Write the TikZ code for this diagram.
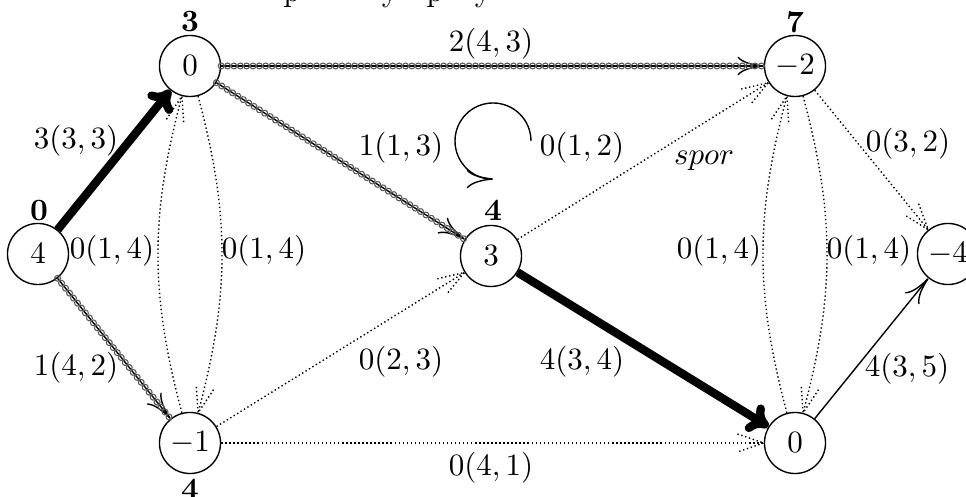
\documentclass[tikz,border=0pt]{standalone}
\usetikzlibrary{arrows.meta,decorations.markings}
\begin{document}
\begin{tikzpicture}[x=0.3226pt,y=-0.3226pt,
  vertex/.style={circle, draw, line width=0.45pt, minimum size=19.7pt, inner sep=0pt, fill=white},
  lab/.style={inner sep=0pt},
  tag/.style={font=\bfseries, inner sep=0pt},
  dotline/.style={line width=0.45pt, dash pattern=on 0.45pt off 0.85pt},
  dotarrow/.style={dotline, postaction={decorate},
    decoration={markings, mark=at position 1 with {\draw[dotline] (-8.5pt,2.9pt) -- (0pt,0pt) -- (-8.5pt,-2.9pt);}}},
  arr/.style={line width=0.45pt, -{To[length=8.5pt,width=6pt]}},
  chain/.style={arr, postaction={decorate},
    decoration={markings, mark=between positions 0 and 1 step 2.05pt with {\draw[black!65, line width=0.35pt] (0pt,0pt) circle (0.95pt);}}},
  thickarr/.style={line width=2.7pt, -{To[length=6.5pt,width=10pt]}}
]
\useasboundingbox (0,0) rectangle (966,497);
% fragments of a text line above the picture
\node[anchor=base, inner sep=0pt] (f1) at (292,1.5) {p};
\node[anchor=base, inner sep=0pt] (f2) at (390,1.5) {y};
\node[anchor=base, inner sep=0pt] (f3) at (435,1.5) {p};
\node[anchor=base, inner sep=0pt] (f4) at (483,1.5) {y};
% vertices
\node[vertex] (A) at (38,254) {$4$};
\node[vertex] (B) at (190,66) {$0$};
\node[vertex] (C) at (190,443) {$-1$};
\node[vertex] (D) at (491,256) {$3$};
\node[vertex] (E) at (795,66) {$-2$};
\node[vertex] (F) at (795,443) {$0$};
\node[vertex] (G) at (948,254) {$-4$};
% potentials
\node[tag] (tA) at (39,211) {0};
\node[tag] (tB) at (190,22) {3};
\node[tag] (tD) at (493,210) {4};
\node[tag] (tE) at (795,22) {7};
\node[tag] (tC) at (190,489) {4};
% edges
\draw[thickarr] (A) -- (B);
\draw[chain] (B) -- (E);
\draw[chain] (B) -- (D);
\draw[chain] (A) -- (C);
\draw[dotarrow] (D) -- (E);
\draw[dotarrow] (C) to[bend left=15] (B);
\draw[dotarrow] (B) to[bend left=15] (C);
\draw[dotarrow] (C) -- (D);
\draw[dotarrow] (C) -- (F);
\draw[thickarr] (D) -- (F);
\draw[dotarrow] (F) to[bend left=15] (E);
\draw[dotarrow] (E) to[bend left=15] (F);
\draw[dotarrow] (E) -- (G);
\draw[arr] (F) -- (G);
% loop
\coordinate (L0) at (531,141);
\coordinate (L1) at (493,179);
\draw[arr] (L0) .. controls (531,120) and (514,103) .. (493,103)
  .. controls (472,103) and (455,120) .. (455,141)
  .. controls (455,162) and (472,179) .. (L1);
% edge labels
\node[lab] (lAB) at (76,141) {$3(3,3)$};
\node[lab] (lBE) at (491,44) {$2(4,3)$};
\node[lab] (lBD) at (401,148) {$1(1,3)$};
\node[lab] (lL) at (582,148) {$0(1,2)$};
\node[lab] (lDE) at (704,161) {$spor$};
\node[lab] (lAC) at (76,368) {$1(4,2)$};
\node[lab] (lCB) at (112,251) {$0(1,4)$};
\node[lab] (lBC) at (264,251) {$0(1,4)$};
\node[lab] (lCD) at (401,362) {$0(2,3)$};
\node[lab] (lCF) at (491,468) {$0(4,1)$};
\node[lab] (lDF) at (582,362) {$4(3,4)$};
\node[lab] (lFE) at (719,251) {$0(1,4)$};
\node[lab] (lEF) at (869,251) {$0(1,4)$};
\node[lab] (lEG) at (908,144) {$0(3,2)$};
\node[lab] (lFG) at (907,369) {$4(3,5)$};
\end{tikzpicture}
\end{document}
